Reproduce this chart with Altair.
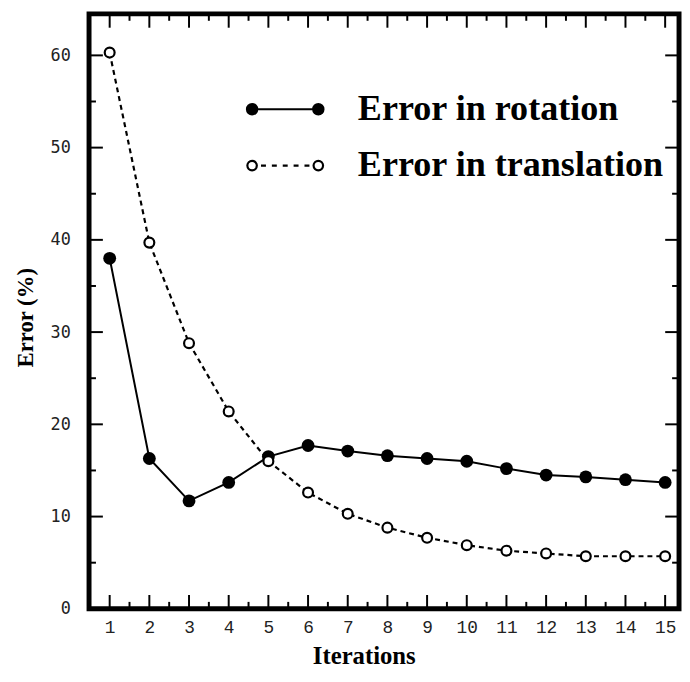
import altair as alt
import pandas as pd

# ---- data ----
iterations = list(range(1, 16))
rotation = [38.0, 16.3, 11.7, 13.7, 16.5, 17.7, 17.1, 16.6, 16.3, 16.0, 15.2, 14.5, 14.3, 14.0, 13.7]
translation = [60.3, 39.7, 28.8, 21.4, 16.0, 12.6, 10.3, 8.8, 7.7, 6.9, 6.3, 6.0, 5.7, 5.7, 5.7]
series_names = ["Error in rotation", "Error in translation"]

x_labels = list(range(1, 16))
x_major = list(range(1, 16))
x_minor = [i + 0.5 for i in range(1, 15)]
y_labels = [0, 10, 20, 30, 40, 50, 60]
y_major = [10, 20, 30, 40, 50, 60]
y_minor = [5, 15, 25, 35, 45, 55]

df = pd.DataFrame({
    "it": iterations * 2,
    "err": rotation + translation,
    "series": [series_names[0]] * 15 + [series_names[1]] * 15,
})

W, H = 597, 602
MAJ, MIN = 14, 7

xs = alt.Scale(domain=[0.48, 15.35], nice=False, zero=False)
ys = alt.Scale(domain=[0, 64.5], nice=False, zero=False)

x_axis = alt.Axis(values=x_labels, title="Iterations", domain=False, ticks=False, grid=False,
                  labelFont="Liberation Mono", labelFontSize=18, labelColor="#222",
                  labelPadding=10, labelFlush=False, labelOverlap=False,
                  titleFont="Liberation Serif", titleFontWeight="bold", titleFontSize=25,
                  titleColor="black", titleX=278, titleY=47, titleBaseline="middle",
                  titleAlign="center")
y_axis = alt.Axis(values=y_labels, title="Error (%)", domain=False, ticks=False, grid=False,
                  labelFont="DejaVu Sans Mono", labelFontSize=17, labelColor="#222",
                  labelPadding=19, labelFlush=False, labelOverlap=False,
                  titleFont="Liberation Serif", titleFontWeight="bold", titleFontSize=23,
                  titleColor="black", titleAngle=270, titleX=-64, titleY=307,
                  titleBaseline="middle", titleAlign="center")

X = lambda: alt.X("it:Q", scale=xs, axis=x_axis)
Y = lambda: alt.Y("err:Q", scale=ys, axis=y_axis)

base = alt.Chart(df)
rot = base.transform_filter(alt.datum.series == series_names[0])
tra = base.transform_filter(alt.datum.series == series_names[1])

rot_line = rot.mark_line(color="black", strokeWidth=2).encode(x=X(), y=Y())
tra_line = tra.mark_line(color="black", strokeWidth=2.2, strokeDash=[5, 4]).encode(x=X(), y=Y())
rot_pts = rot.mark_point(shape="circle", filled=True, size=169, color="black",
                         opacity=1).encode(x=X(), y=Y())
tra_pts = tra.mark_point(shape="circle", filled=True, size=100, fill="white", stroke="black",
                         strokeWidth=2.2, opacity=1).encode(x=X(), y=Y())

# legend built by the library from shape/fill/stroke scales (custom symbol paths)
path_rot = ("M-1.935,0A0.26,0.26,0,1,1,-1.415,0A0.26,0.26,0,1,1,-1.935,0Z "
            "M1.415,0A0.26,0.26,0,1,1,1.935,0A0.26,0.26,0,1,1,1.415,0Z "
            "M-1.415,0L1.415,0")
path_tra = ("M-1.915,0A0.24,0.24,0,1,1,-1.435,0A0.24,0.24,0,1,1,-1.915,0Z "
            "M1.435,0A0.24,0.24,0,1,1,1.915,0A0.24,0.24,0,1,1,1.435,0Z "
            "M-1.225,0L-0.975,0 M-0.675,0L-0.425,0 M-0.125,0L0.125,0 "
            "M0.425,0L0.675,0 M0.975,0L1.225,0")

def make_legend():
    return alt.Legend(title=None, orient="none", legendX=177, legendY=75, direction="vertical",
                      symbolSize=1600, symbolStrokeWidth=2.2,
                      symbolOpacity=1, labelFont="Liberation Serif", labelFontSize=36.5,
                      labelFontWeight="bold", labelColor="black", labelOffset=52,
                      labelLimit=500, rowPadding=17, padding=0)

legend_layer = base.transform_filter("false").mark_point(strokeWidth=2, opacity=1).encode(
    x=X(), y=Y(),
    shape=alt.Shape("series:N", scale=alt.Scale(domain=series_names, range=[path_rot, path_tra]),
                    legend=make_legend()),
    fill=alt.Fill("series:N", scale=alt.Scale(domain=series_names, range=["black", "white"]),
                  legend=make_legend()),
    stroke=alt.Stroke("series:N", scale=alt.Scale(domain=series_names, range=["black", "black"]),
                      legend=make_legend()),
)

def xticks(vals, y0, y1):
    return alt.Chart(pd.DataFrame({"it": vals})).mark_rule(color="black", strokeWidth=2).encode(
        x=X(), y=alt.value(y0), y2=alt.value(y1))

def yticks(vals, x0, x1):
    return alt.Chart(pd.DataFrame({"err": vals})).mark_rule(color="black", strokeWidth=2).encode(
        y=Y(), x=alt.value(x0), x2=alt.value(x1))

ticks = [
    xticks(x_major, H, H - MAJ), xticks(x_minor, H, H - MIN),
    xticks(x_major, 0, MAJ), xticks(x_minor, 0, MIN),
    yticks(y_major, 0, MAJ), yticks(y_minor, 0, MIN),
    yticks(y_major, W, W - MAJ), yticks(y_minor, W, W - MIN),
]

chart = alt.layer(
    rot_line, tra_line, rot_pts, tra_pts, legend_layer, *ticks
).properties(
    width=W, height=H,
    autosize=alt.AutoSizeParams(type="none"),
    padding={"left": 82, "top": 2, "right": 3, "bottom": 60},
    background="white",
).configure_view(
    stroke="black", strokeWidth=5
)

chart.save("out.html", embed_options={"renderer": "svg", "actions": False})
